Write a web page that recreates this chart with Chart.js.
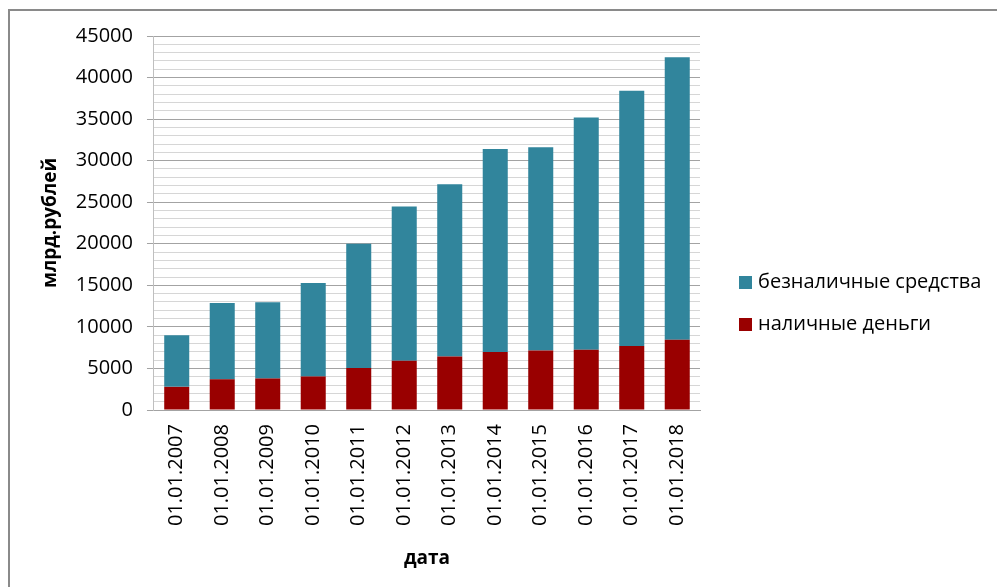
<!DOCTYPE html>
<html>
<head>
<meta charset="utf-8">
<script src="https://cdn.jsdelivr.net/npm/chart.js@4/dist/chart.umd.min.js"></script>
<style>
  html, body { margin: 0; padding: 0; background: #fff; }
  body { width: 997px; height: 587px; position: relative; overflow: hidden; }
  #frame { position: absolute; left: 8px; top: 9px; width: 1000px; height: 600px;
           border-top: 2px solid #8a8a8a; border-left: 2px solid #8a8a8a; }
  #wrap { position: absolute; left: 0; top: 0; width: 997px; height: 587px; }
</style>
</head>
<body>
<div id="frame"></div>
<div id="wrap"><canvas id="c" width="997" height="587"></canvas></div>
<script>
// values in bn roubles
const dates = ["01.01.2007","01.01.2008","01.01.2009","01.01.2010","01.01.2011","01.01.2012",
               "01.01.2013","01.01.2014","01.01.2015","01.01.2016","01.01.2017","01.01.2018"];
const cash = [2785, 3702, 3795, 4038, 5063, 5939, 6430, 6986, 7172, 7239, 7714, 8446];
const nonCash = [6210, 9167, 9181, 11230, 14949, 18544, 20735, 24419, 24444, 27941, 30704, 33996];
const seriesNames = ["безналичные средства", "наличные деньги"];
const yMax = 45000, yMinor = 1000, yMajor = 5000;

const FONT = "'Open Sans', 'Liberation Sans', sans-serif";
const MAJOR = "#a3a3a3", MINOR = "#d6d6d6";

// legend at the right, drawn from the datasets (built-in one gets squeezed by the layout)
const sideLegend = {
  id: "sideLegend",
  afterDraw(chart) {
    const ctx = chart.ctx;
    const x = chart.chartArea.right + 39;
    ctx.save();
    ctx.font = "20px " + FONT;
    ctx.textBaseline = "middle";
    chart.data.datasets.forEach((ds, i) => {
      const y = 282 + i * 42;
      ctx.fillStyle = ds.backgroundColor;
      ctx.fillRect(x, y - 6, 13, 13);
      ctx.fillStyle = "#000";
      ctx.fillText(ds.label, x + 19, y);
    });
    ctx.restore();
  }
};

new Chart(document.getElementById("c"), {
  type: "bar",
  data: {
    labels: dates,
    datasets: [
      {label: seriesNames[0], data: nonCash, backgroundColor: "#31859c", order: 2, stack: "s"},
      {label: seriesNames[1], data: cash, backgroundColor: "#990000", order: 1, stack: "s"}
    ]
  },
  plugins: [sideLegend],
  options: {
    responsive: false,
    animation: false,
    devicePixelRatio: 1,
    layout: {padding: {left: 25, top: 36, right: 297, bottom: 17}},
    datasets: {bar: {categoryPercentage: 1, barPercentage: 0.55}},
    plugins: {
      tooltip: {enabled: false},
      legend: {display: false}
    },
    scales: {
      x: {
        stacked: true,
        grid: {display: false, drawTicks: false},
        border: {display: true, color: MAJOR, width: 1},
        ticks: {maxRotation: 90, minRotation: 90, padding: 14, color: "#000",
                font: {family: FONT, size: 20}, autoSkip: false},
        title: {display: true, text: "дата", color: "#000",
                font: {family: FONT, size: 19, weight: "bold"}, padding: {top: 7.2, bottom: 0}}
      },
      y: {
        stacked: true,
        min: 0, max: yMax,
        grid: {
          color: c => (c.tick && c.tick.value % yMajor === 0) ? MAJOR : MINOR,
          tickColor: c => (c.tick && c.tick.value % yMajor === 0) ? MAJOR : "rgba(0,0,0,0)",
          tickLength: 7, lineWidth: 1
        },
        border: {display: true, color: "#bfbfbf"},
        ticks: {
          stepSize: yMinor, autoSkip: false, padding: 14, color: "#000",
          font: {family: FONT, size: 20},
          callback: v => (v % yMajor === 0 ? String(v) : "")
        },
        title: {display: true, text: "млрд.рублей", color: "#000",
                font: {family: FONT, size: 19, weight: "bold"}, padding: {top: 14, bottom: 0}}
      }
    }
  }
});
</script>
</body>
</html>
